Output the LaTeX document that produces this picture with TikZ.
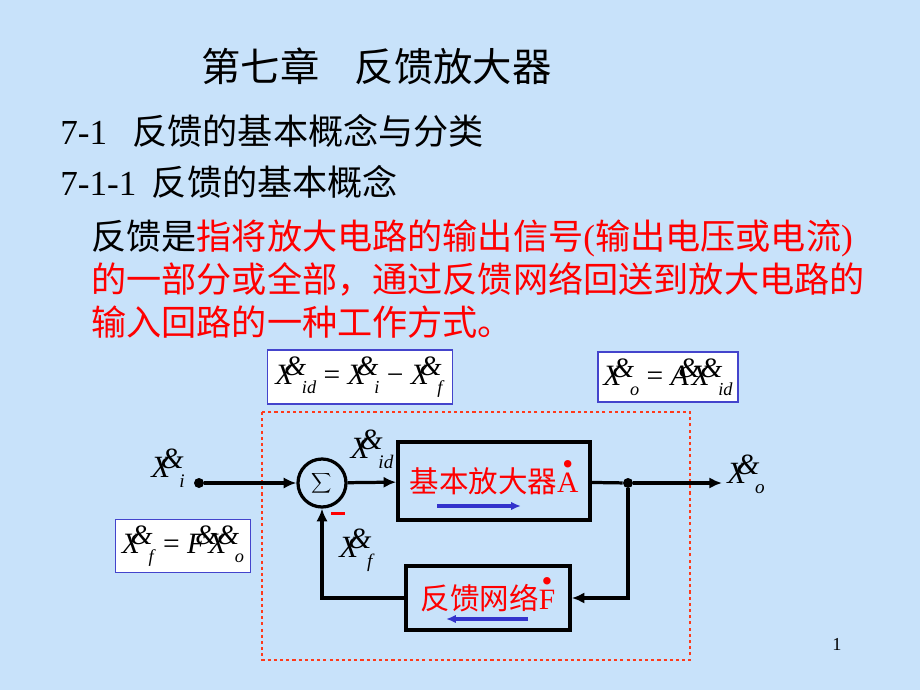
\documentclass[tikz,border=0pt]{standalone}
\usepackage{fontspec}
\usetikzlibrary{arrows.meta}
\setmainfont{Liberation Serif}
\newfontfamily\cjk{Noto Sans CJK SC}
\definecolor{paper}{HTML}{C8E2FA}
\definecolor{hot}{HTML}{FF0000}
\definecolor{looped}{HTML}{FF3A1A}
\definecolor{ink}{HTML}{3333CC}
\definecolor{frame}{HTML}{4444CC}
% phasor letter as the slide prints it (X with an & on top)
\newcommand{\phx}[1]{\textit{#1}\kern-0.34em\raisebox{0.3em}{\scalebox{0.95}{\textit{\&}}}}
\newcommand{\sub}[1]{\kern-0.14em\raisebox{-0.32em}{\scalebox{0.62}{\textit{#1}}}}
\newcommand{\dotted}[1]{\ooalign{#1\cr\hidewidth\raisebox{0.6em}{\scalebox{1.05}{\textbullet}}\hidewidth\cr}}

\begin{document}
\begin{tikzpicture}[x=0.025cm,y=-0.025cm,
  sigline/.style={line width=2.3pt},
  arr/.style={-{Latex[length=9pt,width=8pt]}},
  block/.style={draw, line width=2.5pt, text=hot, font=\cjk\fontsize{21}{24}\selectfont},
  eqbox/.style={draw=frame, line width=1pt, fill=white, font=\fontsize{21}{24}\selectfont},
  lbl/.style={font=\fontsize{22}{24}\selectfont},
  flow/.style={draw=ink, line width=2.2pt, -{Latex[length=7pt,width=6pt]}},
  head/.style={anchor=base west, inner sep=0, font=\fontsize{25}{30}\selectfont},
  jdot/.style={circle, fill, inner sep=0, minimum size=0.25cm}]
\useasboundingbox (0,0) rectangle (920,690);
\fill[paper] (0,0) rectangle (920,690);

% slide text
\node[head, font=\fontsize{28}{32}\selectfont] (title) at (201,81) {\cjk 第七章\hspace{0.9em}反馈放大器};
\node[head] (sec) at (60,144) {7-1\hspace{18pt}{\cjk 反馈的基本概念与分类}};
\node[head] (subsec) at (60,195) {7-1-1\hspace{11pt}{\cjk 反馈的基本概念}};
\node[head] (line1) at (91,249) {\cjk 反馈是\color{hot}指将放大电路的输出信号{\rmfamily(}输出电压或电流{\rmfamily)}};
\node[head, text=hot] (line2) at (91,292) {\cjk 的一部分或全部，通过反馈网络回送到放大电路的};
\node[head, text=hot] (line3) at (91,335) {\cjk 输入回路的一种工作方式。};

% equations
\node[eqbox, minimum width=4.62cm, minimum height=1.35cm] (eqd) at (360,377) {\phx{X}\sub{id} = \phx{X}\sub{i} − \phx{X}\sub{f}};
\node[eqbox, minimum width=3.5cm, minimum height=1.25cm] (eqo) at (668,377) {\phx{X}\sub{o} = \phx{A}\kern-0.3em\phx{X}\sub{id}};
\node[eqbox, minimum width=3.38cm, minimum height=1.32cm] (eqf) at (183,546) {\phx{X}\sub{f} = \phx{F}\kern-0.3em\phx{X}\sub{o}};

% loop boundary
\draw[looped, line width=2pt, dash pattern=on 2.2pt off 2.2pt] (262,412) rectangle (690,660);

% blocks
\node[jdot] (in) at (199,483) {};
\node[circle, draw, sigline, minimum size=1.2cm, inner sep=0] (sum) at (322,483) {\fontsize{20}{20}\selectfont$\displaystyle\sum$};
\node[block, minimum width=4.8cm, minimum height=1.95cm] (amp) at (494,481) {基本放大器{\rmfamily\dotted{A}}};
\node[jdot] (jn) at (628,483) {};
\coordinate (out) at (722,483);
\node[block, minimum width=4.1cm, minimum height=1.6cm] (fb) at (488,598) {反馈网络{\rmfamily\dotted{F}}};
\node[fill=hot, inner sep=0, minimum width=0.36cm, minimum height=0.075cm] (neg) at (338,513) {};

% signals
\node[lbl] (lxi) at (168,468) {\phx{X}\sub{i}};
\node[lbl] (lxid) at (372,449) {\phx{X}\sub{id}};
\node[lbl] (lxo) at (746,474) {\phx{X}\sub{o}};
\node[lbl] (lxf) at (357,550) {\phx{X}\sub{f}};

\draw[sigline, arr] (in) -- (sum);
\draw[sigline, arr] (sum) -- (amp);
\draw[sigline] (amp) -- (jn);
\draw[sigline, arr] (jn) -- (out);
\draw[sigline, arr] (jn) |- (fb);
\draw[sigline, arr] (fb) -| (sum);

\draw[flow] ([shift={(-57,25)}]amp.center) -- ([shift={(27,25)}]amp.center);
\draw[flow] ([shift={(40,21)}]fb.center) -- ([shift={(-42,21)}]fb.center);

\node[font=\fontsize{13}{15}\selectfont] (pg) at (837,644) {1};
\end{tikzpicture}
\end{document}
